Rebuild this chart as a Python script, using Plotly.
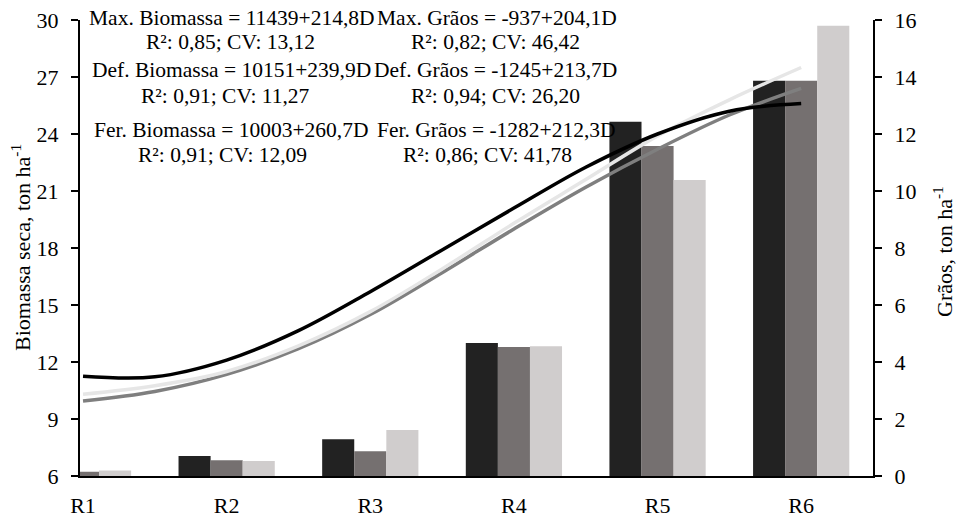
import plotly.graph_objects as go

# Growth stages
stages = ["R1", "R2", "R3", "R4", "R5", "R6"]
stage_pos = [0, 1, 2, 3, 4, 5]

# Grain yield (ton/ha) per treatment
graos_max = [0.10, 0.70, 1.29, 4.67, 12.43, 13.87]
graos_def = [0.15, 0.55, 0.87, 4.53, 11.58, 13.87]
graos_fer = [0.19, 0.53, 1.61, 4.55, 10.39, 15.80]

# Dry biomass trend (ton/ha) sampled along the stage axis
curve_x = [0, 0.5, 1, 1.5, 2, 2.5, 3, 3.5, 4, 4.5, 5]
bio_max = [11.25, 11.22, 12.1, 13.65, 15.7, 17.9, 20.1, 22.25, 24.0, 25.2, 25.6]
bio_def = [9.95, 10.45, 11.35, 12.7, 14.5, 16.7, 19.0, 21.2, 23.2, 25.0, 26.4]
bio_fer = [10.3, 10.75, 11.5, 12.85, 14.65, 16.9, 19.3, 21.6, 23.9, 25.8, 27.5]

FONT = "Liberation Serif, Times New Roman, serif"

fig = go.Figure()

bar_colors = ["#222222", "#757070", "#d0cdcd"]
for name, vals, col in [("Max.", graos_max, bar_colors[0]),
                        ("Def.", graos_def, bar_colors[1]),
                        ("Fer.", graos_fer, bar_colors[2])]:
    fig.add_trace(go.Bar(x=stage_pos, y=vals, name=name, marker_color=col,
                         marker_line_width=0, yaxis="y", showlegend=False))

for vals, col in [(bio_def, "#7f7f7f"), (bio_fer, "#e6e6e6"), (bio_max, "#000000")]:
    fig.add_trace(go.Scatter(x=curve_x, y=vals, mode="lines",
                             line=dict(color=col, width=3.5, shape="spline", smoothing=1.0),
                             yaxis="y2", showlegend=False))

L, R, T, B = 80, 84, 20, 43
W, H = 957, 519
pw, ph = W - L - R, H - T - B


def px(xp):
    return (xp - L) / pw


def py(yp):
    return (H - B - yp) / ph


texts = [
    ("Max. Biomassa = 11439+214,8D", 232, 18),
    ("R²: 0,85; CV: 13,12", 230, 42),
    ("Def. Biomassa = 10151+239,9D", 231, 70),
    ("R²: 0,91; CV: 11,27", 225, 96),
    ("Fer. Biomassa = 10003+260,7D", 231, 130),
    ("R²: 0,91; CV: 12,09", 222, 155),
    ("Max. Grãos = -937+204,1D", 497, 18),
    ("R²: 0,82; CV: 46,42", 495, 42),
    ("Def. Grãos = -1245+213,7D", 495, 70),
    ("R²: 0,94; CV: 26,20", 495, 96),
    ("Fer. Grãos = -1282+212,3D", 496, 130),
    ("R²: 0,86; CV: 41,78", 487, 155),
]
annotations = [dict(text=t, x=px(x), y=py(y), xref="paper", yref="paper",
                    xanchor="center", yanchor="middle", showarrow=False,
                    font=dict(family=FONT, size=21.5, color="#000"))
               for t, x, y in texts]

# Axis titles
annotations.append(dict(text="Biomassa seca, ton ha<sup>-1</sup>", x=px(21), y=py(248),
                        xref="paper", yref="paper", xanchor="center", yanchor="middle",
                        textangle=-90, showarrow=False,
                        font=dict(family=FONT, size=22, color="#000")))
annotations.append(dict(text="Grãos, ton ha<sup>-1</sup>", x=px(943), y=py(252),
                        xref="paper", yref="paper", xanchor="center", yanchor="middle",
                        textangle=-90, showarrow=False,
                        font=dict(family=FONT, size=22, color="#000")))

fig.update_layout(
    width=W, height=H,
    margin=dict(l=L, r=R, t=T, b=B, pad=0, autoexpand=False),
    paper_bgcolor="white", plot_bgcolor="white",
    barmode="group", bargap=0.33, bargroupgap=0,
    font=dict(family=FONT, size=22, color="#000"),
    xaxis=dict(range=[-0.021, 5.5], tickmode="array", tickvals=stage_pos,
               ticktext=stages, showgrid=False, zeroline=False, automargin=False,
               showline=True, linecolor="#000", linewidth=2, ticks="",
               tickfont=dict(size=22), ticklabelstandoff=9),
    yaxis=dict(range=[0, 16], dtick=2, side="right", showgrid=False, automargin=False,
               zeroline=False, showline=True, linecolor="#000", linewidth=2,
               ticks="outside", ticklen=7, tickwidth=1.5, tickcolor="#000",
               tickfont=dict(size=22), ticklabelstandoff=8),
    yaxis2=dict(range=[6, 30], dtick=3, side="left", overlaying="y", automargin=False,
                showgrid=False, zeroline=False, showline=True, linecolor="#000",
                linewidth=2, ticks="outside", ticklen=7, tickwidth=1.5,
                tickcolor="#000", tickfont=dict(size=22), ticklabelstandoff=8),
    annotations=annotations,
)

fig.write_html("out.html")
